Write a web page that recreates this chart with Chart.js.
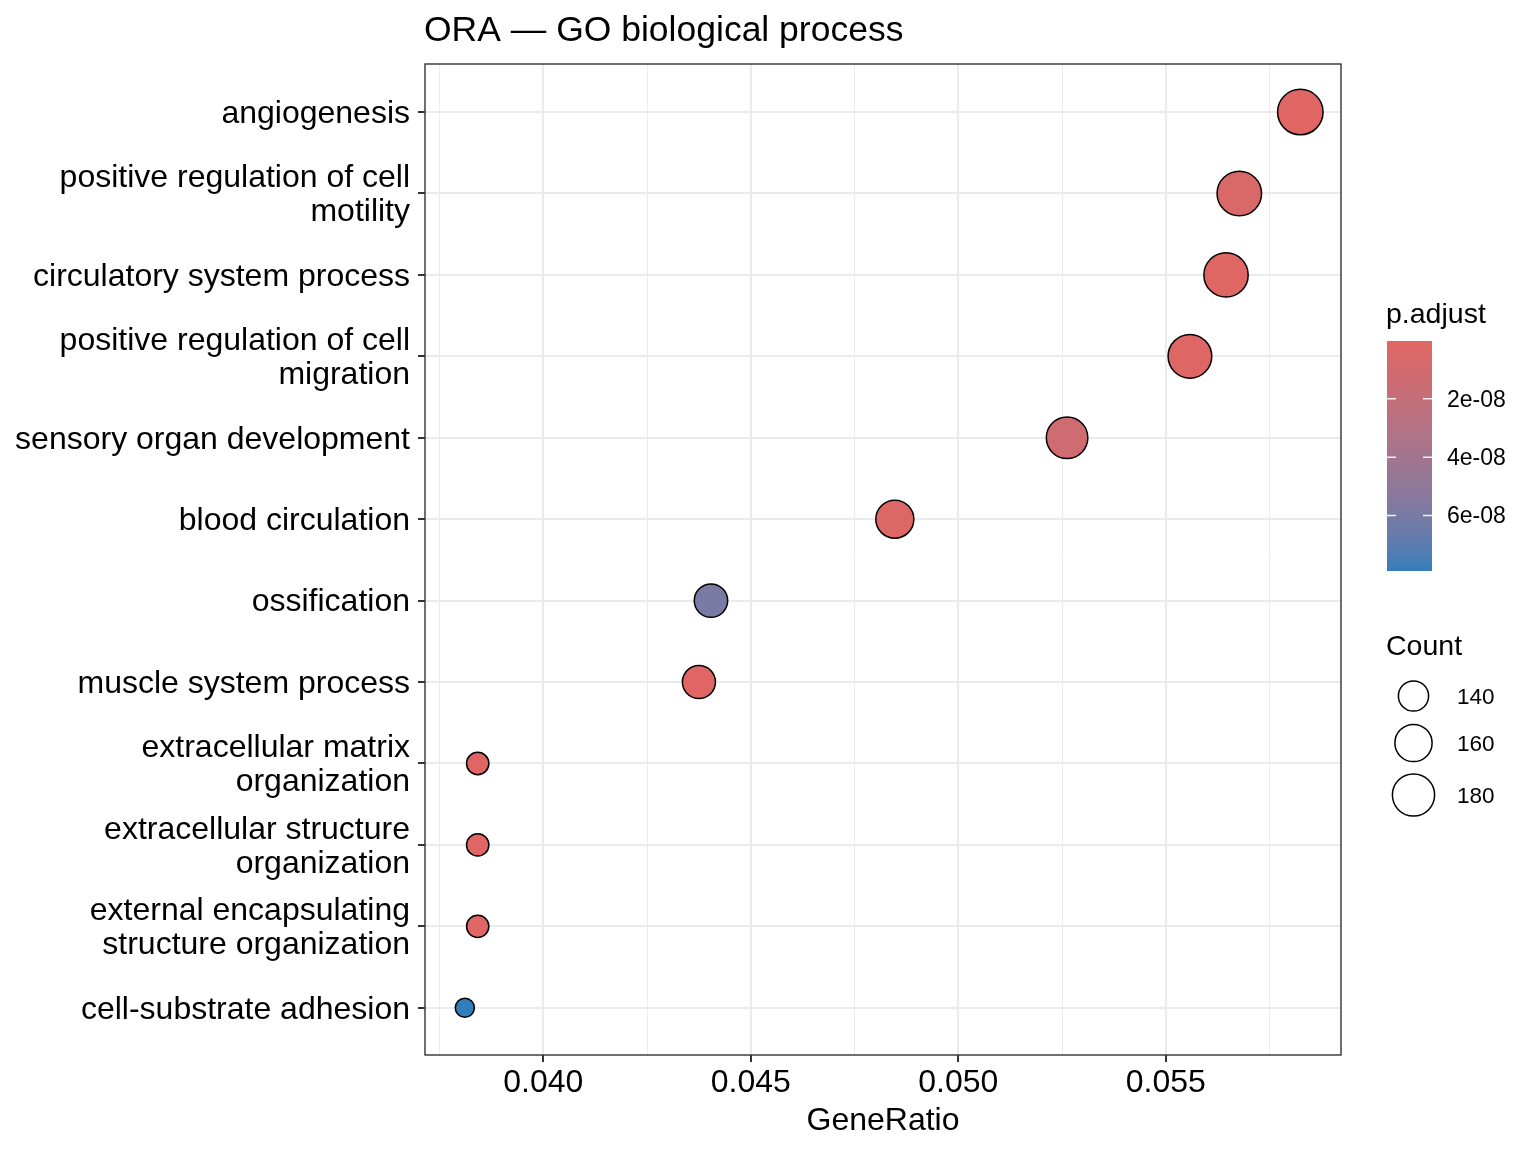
<!DOCTYPE html>
<html>
<head>
<meta charset="utf-8">
<title>ORA — GO biological process</title>
<script src="https://cdn.jsdelivr.net/npm/chart.js@4.4.1/dist/chart.umd.min.js"></script>
<style>
  html, body { margin: 0; padding: 0; background: #fff; }
  #wrap { width: 1536px; height: 1152px; }
</style>
</head>
<body>
<div id="wrap"><canvas id="dotPlot" width="1536" height="1152"></canvas></div>
<script>
// GO terms, top to bottom
const terms = [
  'angiogenesis',
  ['positive regulation of cell', 'motility'],
  'circulatory system process',
  ['positive regulation of cell', 'migration'],
  'sensory organ development',
  'blood circulation',
  'ossification',
  'muscle system process',
  ['extracellular matrix', 'organization'],
  ['extracellular structure', 'organization'],
  ['external encapsulating', 'structure organization'],
  'cell-substrate adhesion'
];
const geneRatio = [0.05824, 0.05677, 0.05645, 0.05558, 0.05262, 0.04847, 0.04404, 0.04375, 0.03842, 0.03842, 0.03842, 0.03811];
const geneCount = [196, 191, 190, 187, 177, 163, 148, 147, 129, 129, 129, 128];
const pAdjust = [2e-10, 5e-9, 1.5e-9, 2e-9, 1.3e-8, 3e-9, 5.9e-8, 1e-9, 1e-9, 1e-9, 1e-9, 7.9e-8];

// axis / legend breaks
const xRange = [0.03715, 0.05922];
const yRange = [-0.59, 11.58];
const xTicks = [0.040, 0.045, 0.050, 0.055];
const xMinorTicks = [0.0375, 0.0425, 0.0475, 0.0525, 0.0575];
const pTicks = [2e-8, 4e-8, 6e-8];
const pTickLabels = ['2e-08', '4e-08', '6e-08'];
const countBreaks = [140, 160, 180];

const FONT = '"Liberation Sans", Arial, Helvetica, sans-serif';
const LOW_COL = '#e06663';
const HIGH_COL = '#327eba';

// --- colour scale (interpolated in Lab like ggplot) ---
function hexToRgb(h) { return [1, 3, 5].map(i => parseInt(h.substr(i, 2), 16)); }
function toLin(c) { c /= 255; return c <= 0.04045 ? c / 12.92 : Math.pow((c + 0.055) / 1.055, 2.4); }
function fromLin(c) {
  c = c <= 0.0031308 ? 12.92 * c : 1.055 * Math.pow(c, 1 / 2.4) - 0.055;
  return Math.round(Math.max(0, Math.min(1, c)) * 255);
}
function rgbToLab(rgb) {
  const [r, g, b] = rgb.map(toLin);
  const x = (0.4124 * r + 0.3576 * g + 0.1805 * b) / 0.95047;
  const y = 0.2126 * r + 0.7152 * g + 0.0722 * b;
  const z = (0.0193 * r + 0.1192 * g + 0.9505 * b) / 1.08883;
  const f = t => t > 0.008856 ? Math.cbrt(t) : 7.787 * t + 16 / 116;
  return [116 * f(y) - 16, 500 * (f(x) - f(y)), 200 * (f(y) - f(z))];
}
function labToRgb(lab) {
  const fy = (lab[0] + 16) / 116, fx = fy + lab[1] / 500, fz = fy - lab[2] / 200;
  const inv = t => t * t * t > 0.008856 ? t * t * t : (t - 16 / 116) / 7.787;
  const x = inv(fx) * 0.95047, y = inv(fy), z = inv(fz) * 1.08883;
  return [
    3.2406 * x - 1.5372 * y - 0.4986 * z,
    -0.9689 * x + 1.8758 * y + 0.0415 * z,
    0.0557 * x - 0.2040 * y + 1.0570 * z
  ].map(fromLin);
}
const labLow = rgbToLab(hexToRgb(LOW_COL));
const labHigh = rgbToLab(hexToRgb(HIGH_COL));
const pMin = Math.min(...pAdjust);
const pMax = Math.max(...pAdjust);

function colourAt(t) {
  const lab = labLow.map((v, k) => v + (labHigh[k] - v) * t);
  const c = labToRgb(lab);
  return 'rgb(' + c.join(',') + ')';
}
function colourFor(p) { return colourAt((p - pMin) / (pMax - pMin)); }

// --- size scale (area, like scale_size) ---
const cMin = Math.min(...geneCount);
const cMax = Math.max(...geneCount);
function radiusFor(n) {
  const t = Math.max(0, (n - cMin) / (cMax - cMin));
  return 9.55 + 13.2 * Math.sqrt(t);
}

function isMajor(v) { return xTicks.some(t => Math.abs(t - v) < 1e-9); }

// title, panel border and the two legends
const decorations = {
  id: 'decorations',
  afterDraw(chart) {
    const ctx = chart.ctx;
    const area = chart.chartArea;
    ctx.save();

    // panel border
    ctx.strokeStyle = '#333333';
    ctx.lineWidth = 1.4;
    ctx.strokeRect(area.left, area.top, area.right - area.left, area.bottom - area.top);

    // plot title
    ctx.fillStyle = '#000';
    ctx.textAlign = 'left';
    ctx.textBaseline = 'alphabetic';
    ctx.font = '35.5px ' + FONT;
    ctx.fillText('ORA — GO biological process', area.left - 1, 41);

    // p.adjust colour bar
    const barX = 1387, barW = 45, barTop = 341, barH = 230;
    ctx.font = '28.5px ' + FONT;
    ctx.fillText('p.adjust', 1386, 323);
    const grad = ctx.createLinearGradient(0, barTop, 0, barTop + barH);
    for (let s = 0; s <= 20; s++) grad.addColorStop(s / 20, colourAt(s / 20));
    ctx.fillStyle = grad;
    ctx.fillRect(barX, barTop, barW, barH);
    ctx.strokeStyle = 'rgba(255,255,255,0.9)';
    ctx.lineWidth = 1.5;
    ctx.font = '23px ' + FONT;
    ctx.textBaseline = 'middle';
    pTicks.forEach((p, i) => {
      const y = barTop + (p - pMin) / (pMax - pMin) * barH;
      ctx.beginPath();
      ctx.moveTo(barX, y); ctx.lineTo(barX + 9, y);
      ctx.moveTo(barX + barW - 9, y); ctx.lineTo(barX + barW, y);
      ctx.stroke();
      ctx.fillStyle = '#000';
      ctx.fillText(pTickLabels[i], 1447, y + 1.5);
    });

    // Count size legend
    ctx.textBaseline = 'alphabetic';
    ctx.font = '28.5px ' + FONT;
    ctx.fillText('Count', 1386, 655);
    const keyY = [696, 743, 795];
    ctx.font = '22.5px ' + FONT;
    ctx.textBaseline = 'middle';
    countBreaks.forEach((n, i) => {
      ctx.beginPath();
      ctx.arc(1413.5, keyY[i], radiusFor(n), 0, Math.PI * 2);
      ctx.fillStyle = '#fff';
      ctx.fill();
      ctx.strokeStyle = '#000';
      ctx.lineWidth = 1.5;
      ctx.stroke();
      ctx.fillStyle = '#000';
      ctx.fillText(String(n), 1457, keyY[i] + 1.5);
    });

    ctx.restore();
  }
};

new Chart(document.getElementById('dotPlot'), {
  type: 'bubble',
  data: {
    datasets: [{
      data: terms.map((t, i) => ({ x: geneRatio[i], y: i, r: radiusFor(geneCount[i]) })),
      backgroundColor: ctx => colourFor(pAdjust[ctx.dataIndex]),
      borderColor: '#000',
      borderWidth: 1.5,
      hoverRadius: 0
    }]
  },
  options: {
    responsive: false,
    animation: false,
    devicePixelRatio: 1,
    layout: { padding: { left: 0, top: 64, right: 195, bottom: 0 } },
    plugins: {
      legend: { display: false },
      tooltip: { enabled: false }
    },
    scales: {
      x: {
        type: 'linear',
        min: xRange[0],
        max: xRange[1],
        afterBuildTicks: s => {
          s.ticks = xMinorTicks.concat(xTicks).sort((a, b) => a - b).map(v => ({ value: v }));
        },
        afterFit: s => { s.height = 97; },
        ticks: {
          autoSkip: false,
          maxRotation: 0,
          padding: 2,
          color: '#000',
          font: { family: FONT, size: 32 },
          callback: v => isMajor(v) ? v.toFixed(3) : ''
        },
        grid: {
          color: '#EBEBEB',
          lineWidth: ctx => (ctx.tick && isMajor(ctx.tick.value)) ? 2 : 1,
          tickColor: ctx => (ctx.tick && isMajor(ctx.tick.value)) ? '#333333' : 'rgba(0,0,0,0)',
          tickLength: 7,
          tickWidth: 2
        },
        border: { display: false },
        title: {
          display: true,
          text: 'GeneRatio',
          color: '#000',
          font: { family: FONT, size: 32 },
          padding: { top: 0, bottom: 12 }
        }
      },
      y: {
        type: 'linear',
        reverse: true,
        min: yRange[0],
        max: yRange[1],
        afterBuildTicks: s => { s.ticks = terms.map((t, i) => ({ value: i })); },
        afterFit: s => { s.width = 425; },
        ticks: {
          autoSkip: false,
          padding: 8,
          labelOffset: 2,
          color: '#000',
          font: { family: FONT, size: 32, lineHeight: 1.06 },
          callback: v => terms[v]
        },
        grid: {
          color: '#EBEBEB',
          lineWidth: 2,
          tickColor: '#333333',
          tickLength: 7,
          tickWidth: 2
        },
        border: { display: false }
      }
    }
  },
  plugins: [decorations]
});
</script>
</body>
</html>
